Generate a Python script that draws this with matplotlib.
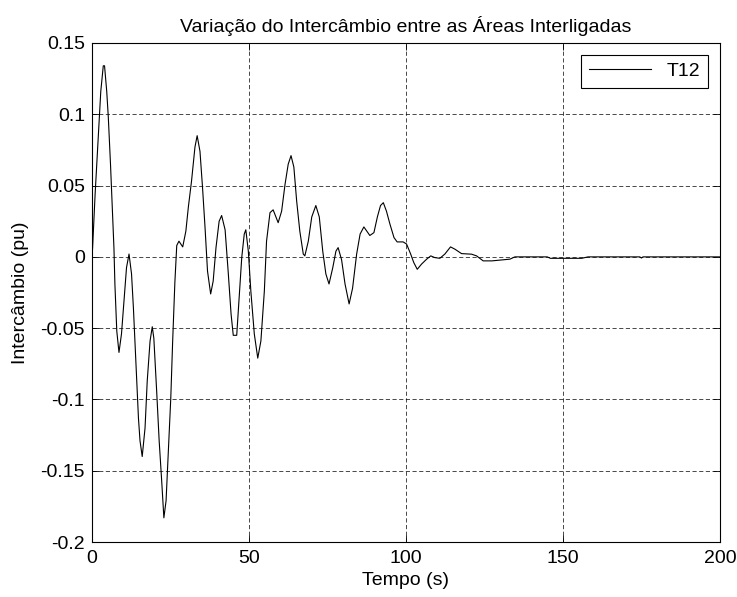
import matplotlib
matplotlib.use("Agg")
import matplotlib.pyplot as plt

plt.rcParams['font.family'] = ['Liberation Sans', 'DejaVu Sans']

# Time samples (s) and tie-line power exchange T12 (pu)
tempo = [0.0, 0.2, 1.0, 2.0, 2.8, 3.6, 4.0, 4.7, 5.2, 5.9, 6.6, 7.0,
         7.3, 7.9, 8.6, 9.4, 10.2, 11.0, 11.8, 12.6, 13.2, 14.0, 14.8,
         15.3, 16.0, 16.9, 17.6, 18.5, 19.2, 19.7, 20.6, 21.4, 22.2, 22.9,
         23.6, 24.3, 25.1, 25.7, 26.4, 27.0, 27.7, 28.9, 29.9, 30.7, 31.7,
         32.8, 33.5, 34.4, 35.2, 36.0, 36.8, 37.8, 38.6, 39.5, 40.5, 41.3,
         42.4, 43.4, 44.3, 45.0, 46.1, 46.8, 47.7, 48.5, 49.0, 49.8, 50.6,
         51.7, 52.8, 53.8, 54.9, 55.6, 56.7, 57.7, 59.3, 60.4, 61.5, 62.5,
         63.4, 64.3, 65.2, 66.2, 67.3, 67.8, 68.9, 70.0, 71.3, 72.4, 73.5,
         74.5, 75.5, 76.7, 77.7, 78.4, 79.5, 80.6, 81.9, 83.0, 84.3, 85.4,
         86.6, 88.5, 89.8, 90.9, 91.9, 92.8, 93.8, 94.9, 96.2, 97.2, 99.1,
         100.2, 101.5, 102.5, 103.6, 105.0, 106.6, 107.9, 109.2, 110.8,
         112.4, 114.2, 115.6, 117.7, 120.9, 122.5, 124.6, 127.4, 133.1,
         134.7, 145.0, 146.0, 156.0, 158.0, 174.5, 175.0, 175.5, 200.0]
t12 = [0.0, 0.0065, 0.044, 0.084, 0.116, 0.134, 0.134, 0.116, 0.098,
       0.065, 0.028, 0.006, -0.019, -0.052, -0.067, -0.054, -0.031,
       -0.0075, 0.002, -0.012, -0.036, -0.075, -0.113, -0.129, -0.140,
       -0.120, -0.087, -0.059, -0.049, -0.057, -0.094, -0.129, -0.157,
       -0.183, -0.171, -0.138, -0.099, -0.059, -0.018, 0.008, 0.011,
       0.007, 0.018, 0.035, 0.053, 0.077, 0.085, 0.074, 0.049, 0.021,
       -0.010, -0.026, -0.017, 0.0065, 0.025, 0.029, 0.019, -0.011,
       -0.040, -0.055, -0.055, -0.031, -0.0005, 0.016, 0.019, 0.004,
       -0.024, -0.054, -0.071, -0.059, -0.024, 0.011, 0.031, 0.033,
       0.024, 0.032, 0.051, 0.065, 0.071, 0.063, 0.039, 0.018, 0.002,
       0.0007, 0.011, 0.028, 0.036, 0.028, 0.004, -0.012, -0.019,
       -0.0075, 0.004, 0.0065, -0.002, -0.019, -0.033, -0.022, 0.002,
       0.016, 0.021, 0.015, 0.017, 0.028, 0.036, 0.038, 0.032, 0.023,
       0.0135, 0.0105, 0.0105, 0.009, 0.002, -0.004, -0.0087, -0.005,
       -0.0016, 0.0007, -0.0005, -0.001, 0.002, 0.007, 0.0054, 0.0023,
       0.0019, 0.0007, -0.0028, -0.0028, -0.0016, 0.0, 0.0, -0.001,
       -0.001, 0.0, 0.0, -0.0008, 0.0, 0.0]

xticks = [0, 50, 100, 150, 200]
yticks = [-0.2, -0.15, -0.1, -0.05, 0, 0.05, 0.1, 0.15]
yticklabels = ['-0.2', '-0.15', '-0.1', '-0.05', '0', '0.05', '0.1', '0.15']

fs = 14

fig = plt.figure(figsize=(7.37, 5.97), dpi=100)
ax = fig.add_axes([0.1248, 0.092, 0.852, 0.836])

ax.plot(tempo, t12, color='black', linewidth=0.8, label='T12')

ax.set_xlim(0, 200)
ax.set_ylim(-0.2, 0.15)
ax.set_xticks(xticks)
ax.set_yticks(yticks)
ax.set_yticklabels(yticklabels)
ax.tick_params(direction='in', top=True, right=True, length=5,
               width=0.6, labelsize=fs)
ax.tick_params(axis='x', pad=6)
ax.tick_params(axis='y', pad=5)
ax.grid(True, color='black', linestyle=(0, (6, 3.6)), linewidth=0.5)
for sp in ax.spines.values():
    sp.set_linewidth(0.8)

ax.set_title('Variação do Intercâmbio entre as Áreas Interligadas',
             fontsize=fs, pad=8)
ax.set_xlabel('Tempo (s)', fontsize=fs, labelpad=3)
ax.set_ylabel('Intercâmbio (pu)', fontsize=fs, labelpad=8)

leg = ax.legend(loc='upper right', fontsize=fs, fancybox=False,
                framealpha=1, edgecolor='black', handlelength=3.2,
                borderpad=0.4, borderaxespad=0.6)
leg.get_frame().set_linewidth(0.8)

fig.savefig('out.png', dpi=100)
